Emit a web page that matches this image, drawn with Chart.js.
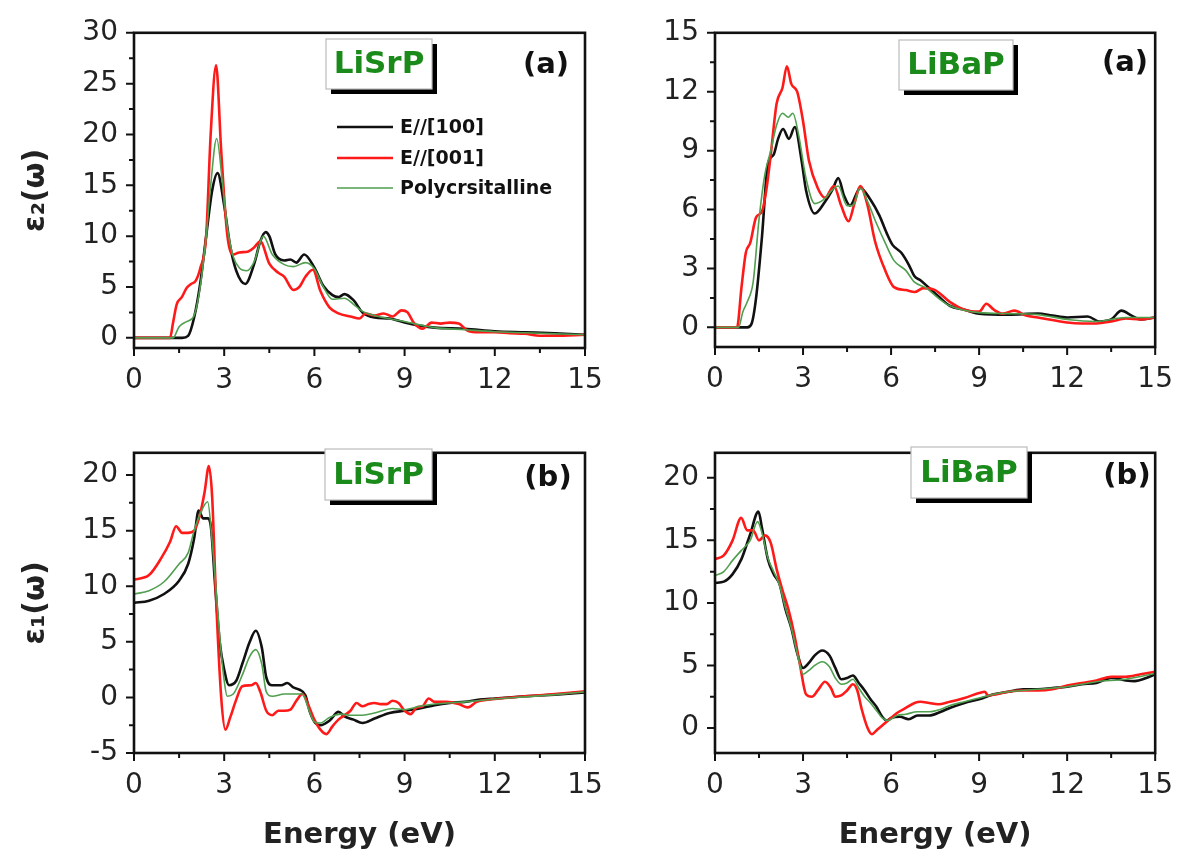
<!DOCTYPE html>
<html lang="en">
<head>
  <meta charset="UTF-8" />
  <title>LiSrP / LiBaP dielectric function</title>
  <script src="https://cdn.jsdelivr.net/npm/chart.js"></script>
  <style>
    html, body { margin: 0; padding: 0; background: #fff; }
    #wrap { position: relative; width: 1189px; height: 850px; overflow: hidden; }
    canvas { position: absolute; }
  </style>
</head>
<body>
  <div id="wrap">
    <canvas id="c1" width="625" height="420" style="left:0;top:0"></canvas>
    <canvas id="c2" width="594" height="420" style="left:595px;top:0"></canvas>
    <canvas id="c3" width="625" height="430" style="left:0;top:420px"></canvas>
    <canvas id="c4" width="594" height="430" style="left:595px;top:420px"></canvas>
  </div>

  <script>
    // axis ticks
    const energyTicks = [0, 3, 6, 9, 12, 15];
    const energyMinor = [1.5, 4.5, 7.5, 10.5, 13.5];
    const srEps2Ticks = [0, 5, 10, 15, 20, 25, 30];
    const srEps2Minor = [2.5, 7.5, 12.5, 17.5, 22.5, 27.5];
    const baEps2Ticks = [0, 3, 6, 9, 12, 15];
    const baEps2Minor = [1.5, 4.5, 7.5, 10.5, 13.5];
    const srEps1Ticks = [-5, 0, 5, 10, 15, 20];
    const srEps1Minor = [-2.5, 2.5, 7.5, 12.5, 17.5];
    const baEps1Ticks = [0, 5, 10, 15, 20];
    const baEps1Minor = [2.5, 7.5, 12.5, 17.5];

    const seriesLabels = ["E//[100]", "E//[001]", "Polycrsitalline"];

    // [energy (eV), value]
    // LiSrP eps2
    const srEps2_100 = [[0,0],[1.0,0],[1.6,0],[1.8,0.2],[2.0,2.0],[2.2,5.3],[2.4,10.0],[2.6,14.5],[2.78,16.2],[3.0,13.0],[3.2,9.0],[3.4,6.6],[3.7,5.3],[4.0,7.3],[4.2,9.5],[4.38,10.4],[4.5,10.0],[4.7,8.2],[5.0,7.6],[5.2,7.7],[5.4,7.4],[5.66,8.2],[6.0,6.9],[6.3,5.1],[6.6,4.2],[6.8,4.0],[7.0,4.3],[7.3,3.7],[7.6,2.5],[8.0,2.0],[8.5,1.9],[9.0,1.5],[9.5,1.2],[10,1.0],[11,0.9],[12,0.65],[13,0.55],[14,0.45],[15,0.3]];
    const srEps2_001 = [[0,0],[1.2,0],[1.3,1.5],[1.42,3.3],[1.59,4.0],[1.75,4.9],[1.9,5.3],[2.05,5.6],[2.2,6.8],[2.4,10.0],[2.55,20.0],[2.73,26.8],[2.9,18.4],[3.1,10.2],[3.3,8.2],[3.5,8.4],[3.8,8.5],[4.0,8.9],[4.2,9.5],[4.5,7.3],[4.8,6.4],[5.0,6.0],[5.3,4.7],[5.5,5.0],[5.7,6.0],[5.95,6.7],[6.2,4.6],[6.5,3.0],[6.8,2.4],[7.2,2.1],[7.5,1.9],[7.7,2.4],[8.0,2.2],[8.3,2.4],[8.6,2.1],[8.9,2.7],[9.1,2.5],[9.3,1.5],[9.6,0.9],[9.9,1.5],[10.2,1.4],[10.5,1.5],[10.8,1.4],[11.1,0.7],[11.5,0.55],[12,0.55],[12.5,0.45],[13,0.4],[13.5,0.2],[14,0.2],[15,0.3]];
    const srEps2_poly = [[0,0],[1.3,0],[1.5,1.1],[1.75,1.6],[2.0,2.2],[2.2,5.0],[2.4,10.0],[2.55,15.0],[2.75,19.6],[2.95,15.0],[3.1,11.0],[3.3,8.0],[3.5,6.9],[3.75,6.6],[4.0,7.5],[4.3,10.0],[4.6,8.2],[5.0,7.2],[5.3,7.0],[5.7,7.4],[6.0,6.8],[6.3,5.0],[6.6,3.8],[7.0,3.9],[7.3,3.3],[7.6,2.6],[8.0,2.2],[9.0,1.6],[10,1.0],[11,0.8],[12,0.6],[13,0.5],[14,0.4],[15,0.3]];

    // LiBaP eps2
    const baEps2_100 = [[0,0],[1.1,0],[1.25,0.2],[1.4,1.5],[1.6,4.6],[1.8,8.3],[2.0,8.8],[2.15,9.6],[2.32,10.1],[2.52,9.6],[2.72,10.2],[2.95,8.5],[3.1,7.0],[3.4,5.8],[3.75,6.4],[4.0,7.0],[4.2,7.6],[4.4,6.7],[4.6,6.2],[4.95,7.1],[5.3,6.5],[5.6,5.7],[5.85,4.8],[6.05,4.2],[6.35,3.8],[6.6,3.2],[6.8,2.6],[7.0,2.4],[7.3,2.0],[7.6,1.6],[8.0,1.1],[8.5,0.9],[9.0,0.7],[10,0.65],[11,0.7],[11.5,0.6],[12,0.5],[12.7,0.55],[13.1,0.3],[13.5,0.4],[13.85,0.85],[14.2,0.6],[14.5,0.4],[15,0.5]];
    const baEps2_001 = [[0,0],[0.75,0],[0.9,2.0],[1.05,3.8],[1.2,4.3],[1.4,5.6],[1.6,5.9],[1.75,7.0],[1.9,8.8],[2.1,11.4],[2.3,12.2],[2.45,13.3],[2.6,12.4],[2.8,12.0],[3.0,10.5],[3.2,8.5],[3.5,7.1],[3.75,6.6],[4.05,7.2],[4.3,6.2],[4.55,5.4],[4.75,6.3],[4.95,7.2],[5.2,6.2],[5.45,4.4],[5.8,2.9],[6.1,2.05],[6.5,1.9],[6.8,1.8],[7.1,2.0],[7.5,1.9],[8.0,1.3],[8.5,0.9],[9.0,0.8],[9.25,1.2],[9.5,0.9],[9.8,0.7],[10.2,0.85],[10.6,0.6],[11,0.5],[12,0.25],[12.5,0.2],[13,0.2],[13.5,0.3],[14,0.45],[14.5,0.4],[15,0.5]];
    const baEps2_poly = [[0,0],[0.8,0],[0.95,0.8],[1.1,1.3],[1.3,2.3],[1.5,5.5],[1.7,7.8],[1.9,9.0],[2.1,10.3],[2.3,10.9],[2.5,10.7],[2.65,10.9],[2.85,9.8],[3.1,7.6],[3.4,6.3],[3.7,6.5],[4.0,7.0],[4.2,7.2],[4.5,6.2],[4.7,6.2],[4.95,7.1],[5.2,6.4],[5.5,5.3],[5.8,4.3],[6.1,3.4],[6.5,2.9],[6.8,2.3],[7.2,2.0],[7.6,1.5],[8.0,1.1],[9.0,0.75],[10,0.7],[11,0.65],[12,0.4],[13,0.3],[14,0.5],[15,0.5]];

    // LiSrP eps1
    const srEps1_100 = [[0,8.5],[0.5,8.7],[1.0,9.3],[1.5,10.5],[1.8,12.0],[2.0,14.3],[2.15,16.8],[2.3,16.1],[2.45,16.1],[2.55,15.5],[2.7,10.0],[2.85,5.0],[3.0,2.5],[3.16,1.1],[3.4,1.5],[3.6,3.0],[3.85,5.0],[4.05,6.0],[4.25,4.5],[4.4,1.8],[4.6,1.1],[4.9,1.1],[5.1,1.3],[5.3,0.9],[5.5,0.7],[5.7,0.2],[5.85,-1.3],[6.03,-2.3],[6.2,-2.5],[6.5,-2.1],[6.8,-1.3],[7.0,-1.7],[7.3,-2.0],[7.6,-2.3],[8.0,-1.9],[8.5,-1.4],[9.0,-1.2],[9.5,-1.0],[10,-0.7],[10.5,-0.5],[11,-0.4],[11.5,-0.2],[12,-0.1],[13,0.1],[14,0.25],[15,0.45]];
    const srEps1_001 = [[0,10.6],[0.5,11.0],[0.9,12.5],[1.2,14.0],[1.4,15.4],[1.6,14.8],[1.8,14.8],[2.0,15.0],[2.2,16.5],[2.35,18.5],[2.49,20.8],[2.6,18.0],[2.72,9.5],[2.9,0.0],[3.04,-2.9],[3.2,-1.8],[3.4,-0.2],[3.6,1.0],[3.9,1.1],[4.05,1.3],[4.2,0.5],[4.4,-1.2],[4.6,-1.6],[4.8,-1.2],[5.0,-1.2],[5.2,-1.1],[5.4,-0.3],[5.6,0.3],[5.8,-0.7],[6.0,-2.0],[6.2,-2.9],[6.4,-3.3],[6.6,-2.6],[6.8,-2.0],[7.0,-1.6],[7.2,-1.2],[7.4,-0.5],[7.6,-0.8],[7.8,-0.6],[8.0,-0.5],[8.2,-0.6],[8.4,-0.6],[8.6,-0.3],[8.8,-0.5],[9.0,-1.2],[9.2,-1.5],[9.4,-0.9],[9.6,-0.8],[9.8,-0.1],[10,-0.4],[10.4,-0.4],[10.8,-0.6],[11.1,-0.9],[11.4,-0.4],[12,-0.15],[13,0.1],[14,0.3],[15,0.55]];
    const srEps1_poly = [[0,9.3],[0.5,9.6],[1.0,10.4],[1.5,12.0],[1.8,13.0],[2.0,15.0],[2.2,16.5],[2.45,17.6],[2.6,14.0],[2.75,9.0],[2.9,4.0],[3.0,1.5],[3.1,0.1],[3.3,0.3],[3.6,2.0],[3.85,3.7],[4.05,4.3],[4.25,3.0],[4.4,0.5],[4.6,0.1],[5.0,0.3],[5.3,0.3],[5.6,0.3],[5.8,-1.0],[6.0,-2.2],[6.2,-2.3],[6.5,-1.8],[6.9,-1.5],[7.2,-1.6],[7.6,-1.6],[8.0,-1.4],[8.6,-1.0],[9.0,-1.1],[9.5,-0.8],[10,-0.6],[11,-0.4],[12,-0.15],[13,0.05],[14,0.25],[15,0.5]];

    // LiBaP eps1
    const baEps1_100 = [[0,11.6],[0.3,11.7],[0.6,12.3],[0.9,13.5],[1.2,15.5],[1.48,17.3],[1.6,16.0],[1.8,13.5],[2.0,12.3],[2.2,11.5],[2.4,9.5],[2.6,8.0],[2.8,6.0],[3.0,4.8],[3.2,5.2],[3.4,5.8],[3.65,6.2],[3.9,5.8],[4.1,4.8],[4.3,3.9],[4.5,4.0],[4.7,4.2],[4.9,3.6],[5.1,3.0],[5.3,2.3],[5.5,1.7],[5.7,0.9],[5.85,0.6],[6.0,0.8],[6.3,0.9],[6.6,0.7],[6.9,1.0],[7.3,1.0],[7.7,1.3],[8.0,1.6],[8.5,2.0],[9.0,2.3],[9.5,2.7],[10,2.9],[10.5,3.1],[11,3.1],[11.5,3.2],[12,3.3],[12.5,3.5],[13,3.6],[13.5,4.0],[14,3.8],[14.3,3.75],[14.7,4.0],[15,4.3]];
    const baEps1_001 = [[0,13.5],[0.3,13.8],[0.6,15.0],[0.89,16.8],[1.1,15.8],[1.3,15.8],[1.5,15.0],[1.7,15.4],[1.9,14.8],[2.1,12.7],[2.3,11.0],[2.5,9.5],[2.7,7.5],[2.9,5.0],[3.1,2.7],[3.3,2.5],[3.5,3.0],[3.75,3.7],[3.95,3.2],[4.1,2.5],[4.3,2.6],[4.5,3.0],[4.7,3.5],[4.85,3.0],[5.0,1.5],[5.2,0.0],[5.35,-0.5],[5.5,-0.2],[5.7,0.2],[5.9,0.6],[6.2,1.2],[6.5,1.6],[6.8,2.0],[7.0,2.1],[7.3,2.0],[7.6,1.9],[8.0,2.1],[8.5,2.4],[9.0,2.8],[9.2,2.9],[9.3,2.6],[9.6,2.7],[10,2.9],[10.5,3.0],[11,3.0],[11.5,3.1],[12,3.4],[12.5,3.6],[13,3.8],[13.5,4.1],[14,4.1],[14.5,4.3],[15,4.5]];
    const baEps1_poly = [[0,12.2],[0.3,12.5],[0.6,13.4],[0.9,14.2],[1.2,15.0],[1.45,16.5],[1.6,15.6],[1.8,13.6],[2.0,12.5],[2.2,11.4],[2.4,9.6],[2.6,8.0],[2.8,6.0],[3.0,4.3],[3.2,4.6],[3.4,5.0],[3.65,5.3],[3.9,4.9],[4.1,4.0],[4.3,3.5],[4.5,3.6],[4.7,3.9],[4.9,3.2],[5.1,2.5],[5.3,2.0],[5.5,1.4],[5.7,0.8],[5.9,0.6],[6.2,1.0],[6.5,1.1],[6.9,1.3],[7.3,1.3],[7.7,1.5],[8.0,1.8],[8.5,2.1],[9.0,2.4],[9.5,2.7],[10,2.9],[11,3.1],[12,3.3],[13,3.7],[14,3.9],[15,4.35]];

    const lineColors = ["#111111", "#ff1a1a", "#4f9f4f"];
    const lineWidths = [2.6, 2.6, 1.6];
    const tickFont = { family: "DejaVu Sans", size: 28 };

    // frame, outward ticks, compound tag, panel letter, legend
    const decorPlugin = {
      id: "decor",
      afterDraw(chart, args, o) {
        const { ctx, chartArea: a, scales: { x, y } } = chart;
        ctx.save();
        ctx.strokeStyle = "#111";
        ctx.lineWidth = 2;
        ctx.beginPath();
        o.xMajor.forEach(v => { const p = x.getPixelForValue(v); ctx.moveTo(p, a.bottom); ctx.lineTo(p, a.bottom + 8); });
        o.xMinor.forEach(v => { const p = x.getPixelForValue(v); ctx.moveTo(p, a.bottom); ctx.lineTo(p, a.bottom + 5); });
        o.yMajor.forEach(v => { const p = y.getPixelForValue(v); ctx.moveTo(a.left - 8, p); ctx.lineTo(a.left, p); });
        o.yMinor.forEach(v => { const p = y.getPixelForValue(v); ctx.moveTo(a.left - 5, p); ctx.lineTo(a.left, p); });
        ctx.stroke();
        ctx.lineWidth = 2.6;
        ctx.strokeRect(a.left, a.top, a.right - a.left, a.bottom - a.top);

        // tag box with drop shadow
        const t = o.tag;
        ctx.fillStyle = "#000";
        ctx.fillRect(t.x + 5, t.y + 5, t.w, t.h);
        ctx.fillStyle = "#fff";
        ctx.fillRect(t.x, t.y, t.w, t.h);
        ctx.strokeStyle = "#bbb";
        ctx.lineWidth = 1.2;
        ctx.strokeRect(t.x, t.y, t.w, t.h);
        ctx.font = "bold 31px 'DejaVu Sans'";
        ctx.fillStyle = "#1a8a1a";
        ctx.textAlign = "center";
        ctx.textBaseline = "middle";
        ctx.fillText(t.text, t.x + t.w / 2, t.y + t.h / 2 + 1);

        ctx.font = "bold 29px 'DejaVu Sans'";
        ctx.fillStyle = "#111";
        ctx.fillText(o.letter.text, o.letter.x, o.letter.y);

        if (o.legend) {
          const L = o.legend;
          ctx.textAlign = "left";
          ctx.font = "bold 19px 'DejaVu Sans'";
          chart.data.datasets.forEach((ds, i) => {
            const ly = L.y[i];
            ctx.strokeStyle = ds.borderColor;
            ctx.lineWidth = ds.borderWidth;
            ctx.beginPath();
            ctx.moveTo(L.x0, ly);
            ctx.lineTo(L.x1, ly);
            ctx.stroke();
            ctx.fillStyle = "#111";
            ctx.fillText(ds.label, L.tx, ly + 1);
          });
        }
        ctx.restore();
      }
    };

    function makeChart(id, p) {
      const datasets = p.series.map((s, i) => ({
        label: seriesLabels[i],
        data: s.map(pt => ({ x: pt[0], y: pt[1] })),
        borderColor: lineColors[i],
        borderWidth: lineWidths[i],
        order: 3 - i,
        fill: false
      }));
      return new Chart(document.getElementById(id), {
        type: "line",
        data: { datasets },
        options: {
          responsive: false,
          animation: false,
          layout: { padding: p.pad },
          elements: { point: { radius: 0 }, line: { cubicInterpolationMode: "monotone" } },
          plugins: {
            legend: { display: false },
            tooltip: { enabled: false },
            decor: {
              xMajor: energyTicks, xMinor: energyMinor,
              yMajor: p.yTicks, yMinor: p.yMinor,
              tag: p.tag, letter: p.letter, legend: p.legend
            }
          },
          scales: {
            x: {
              type: "linear",
              min: 0, max: 15,
              afterBuildTicks: s => { s.ticks = energyTicks.map(v => ({ value: v })); },
              afterFit: s => { s.height = p.xh; },
              grid: { display: false, drawTicks: false },
              border: { display: false },
              ticks: { padding: 16, color: "#222", font: tickFont, maxRotation: 0, autoSkip: false },
              title: {
                display: !!p.xTitle, text: p.xTitle || "",
                color: "#222", font: { family: "DejaVu Sans", size: 29, weight: "bold", lineHeight: 1 },
                padding: { top: 0, bottom: 0 }
              }
            },
            y: {
              type: "linear",
              min: p.yMin, max: p.yMax,
              afterBuildTicks: s => { s.ticks = p.yTicks.map(v => ({ value: v })); },
              afterFit: s => { s.width = p.yw; },
              grid: { display: false, drawTicks: false },
              border: { display: false },
              ticks: { padding: 16, color: "#222", font: tickFont, autoSkip: false },
              title: {
                display: !!p.yTitle, text: p.yTitle || "",
                color: "#222", font: { family: "DejaVu Sans", size: 30, weight: "bold" },
                padding: { top: 18, bottom: 0 }
              }
            }
          }
        },
        plugins: [decorPlugin]
      });
    }

    makeChart("c1", {
      series: [srEps2_100, srEps2_001, srEps2_poly],
      yMin: -1, yMax: 30, yTicks: srEps2Ticks, yMinor: srEps2Minor,
      pad: { top: 31, right: 40, left: 0, bottom: 0 }, yw: 134, xh: 72,
      yTitle: "ε₂(ω)",
      tag: { text: "LiSrP", x: 326, y: 39, w: 106, h: 50 },
      letter: { text: "(a)", x: 546, y: 65 },
      legend: { x0: 337, x1: 393, tx: 400, y: [127, 158, 188] }
    });

    makeChart("c2", {
      series: [baEps2_100, baEps2_001, baEps2_poly],
      yMin: -1, yMax: 15, yTicks: baEps2Ticks, yMinor: baEps2Minor,
      pad: { top: 31, right: 21, left: 0, bottom: 0 }, yw: 120, xh: 73,
      tag: { text: "LiBaP", x: 304, y: 40, w: 114, h: 50 },
      letter: { text: "(a)", x: 530, y: 63 }
    });

    makeChart("c3", {
      series: [srEps1_100, srEps1_001, srEps1_poly],
      yMin: -5, yMax: 22, yTicks: srEps1Ticks, yMinor: srEps1Minor,
      pad: { top: 17, right: 40, left: 0, bottom: 0 }, yw: 134, xh: 97,
      yTitle: "ε₁(ω)", xTitle: "Energy (eV)",
      tag: { text: "LiSrP", x: 325, y: 29, w: 107, h: 51 },
      letter: { text: "(b)", x: 548, y: 58 }
    });

    makeChart("c4", {
      series: [baEps1_100, baEps1_001, baEps1_poly],
      yMin: -2, yMax: 22, yTicks: baEps1Ticks, yMinor: baEps1Minor,
      pad: { top: 16, right: 21, left: 0, bottom: 0 }, yw: 120, xh: 97,
      xTitle: "Energy (eV)",
      tag: { text: "LiBaP", x: 316, y: 27, w: 116, h: 51 },
      letter: { text: "(b)", x: 532, y: 56 }
    });
  </script>
</body>
</html>
